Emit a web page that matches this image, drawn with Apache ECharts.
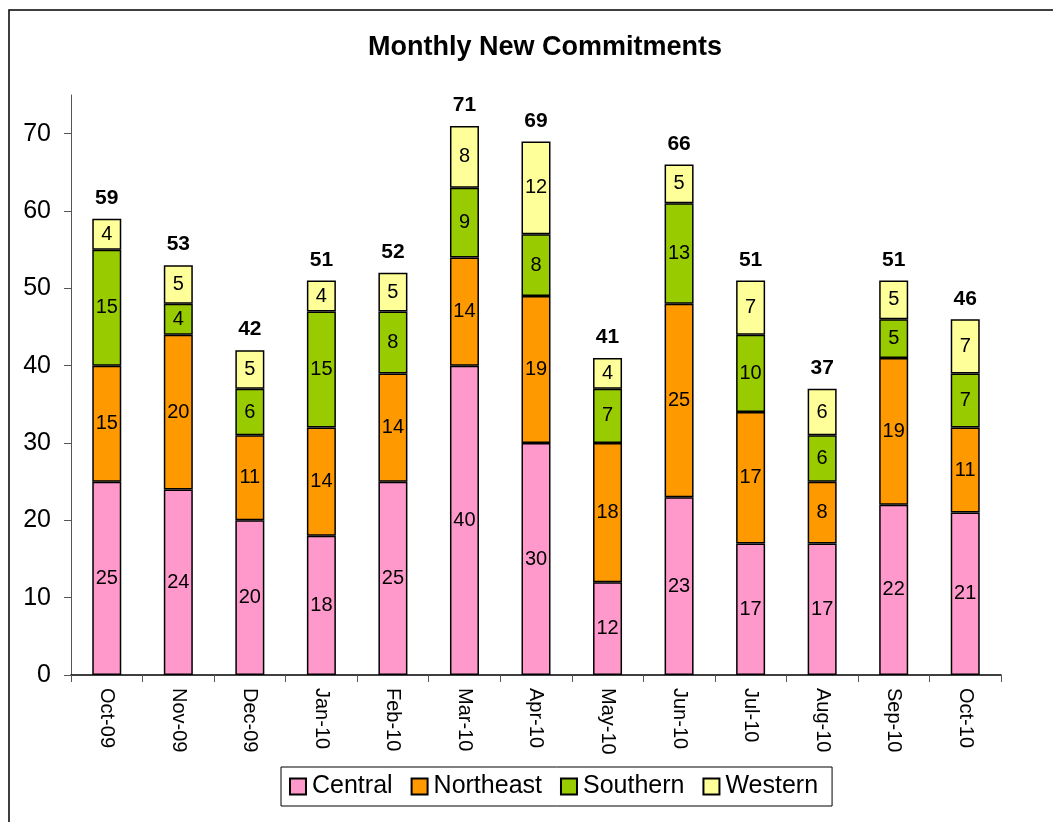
<!DOCTYPE html>
<html><head><meta charset="utf-8">
<script src="https://cdn.jsdelivr.net/npm/echarts@6/dist/echarts.min.js"></script>
<style>html,body{margin:0;padding:0;background:#fff}#c{width:1053px;height:822px}</style>
</head><body><div id="c"></div>
<script>
var categories = ['Oct-09','Nov-09','Dec-09','Jan-10','Feb-10','Mar-10','Apr-10','May-10','Jun-10','Jul-10','Aug-10','Sep-10','Oct-10'];
var central   = [25,24,20,18,25,40,30,12,23,17,17,22,21];
var northeast = [15,20,11,14,14,14,19,18,25,17,8,19,11];
var southern  = [15,4,6,15,8,9,8,7,13,10,6,5,7];
var western   = [4,5,5,4,5,8,12,4,5,7,6,5,7];
var yTicks = [0,10,20,30,40,50,60,70];

var totals = categories.map(function(_, i){ return central[i]+northeast[i]+southern[i]+western[i]; });
var font = 'Liberation Sans, Arial, sans-serif';
function seg(name, data, color){
  return {name:name, type:'bar', stack:'a', data:data, barWidth:29,
    itemStyle:{color:color, borderColor:'#000', borderWidth:1.5},
    label:{show:true, position:'inside', color:'#000', fontSize:20, fontFamily:font},
    emphasis:{disabled:true}};
}
var chart = echarts.init(document.getElementById('c'));
chart.setOption({
  backgroundColor:'#fff',
  animation:false,
  title:{text:'Monthly New Commitments', left:540, textAlign:'center', top:29,
    textStyle:{fontSize:27, fontWeight:'bold', color:'#000', fontFamily:font}},
  graphic:[{type:'rect', shape:{x:9, y:10, width:1100, height:900}, style:{fill:'none', stroke:'#000', lineWidth:1.5}, silent:true}],
  legend:{data:['Central','Northeast','Southern','Western'], left:281, top:767,
    borderColor:'#000', borderWidth:1, padding:[7,14,7,8], itemGap:18,
    itemWidth:16, itemHeight:16, icon:'rect',
    textStyle:{fontSize:25, color:'#000', fontFamily:font, padding:[0,0,0,1]}},
  grid:{left:71, right:52, top:95, bottom:147},
  xAxis:{type:'category', data:categories,
    axisLine:{lineStyle:{color:'#000', width:1.5}},
    axisTick:{show:true, length:7, lineStyle:{color:'#555'}},
    axisLabel:{rotate:-90, color:'#000', fontSize:20, fontFamily:font, margin:13}},
  yAxis:{type:'value', min:0, max:75, interval:5,
    splitLine:{show:false},
    axisLine:{show:true, lineStyle:{color:'#555', width:1}},
    axisTick:{show:true, length:7, customValues:yTicks, lineStyle:{color:'#555'}},
    axisLabel:{color:'#000', fontSize:25, fontFamily:font, margin:20, customValues:yTicks}},
  series:[
    seg('Central', central, '#FF99CC'),
    seg('Northeast', northeast, '#FF9900'),
    seg('Southern', southern, '#99CC00'),
    seg('Western', western, '#FFFF99'),
    {name:'Total', type:'bar', stack:'a', barWidth:29, data:totals.map(function(){return 0;}),
      itemStyle:{color:'transparent', borderWidth:0},
      label:{show:true, position:'top', distance:10, color:'#000', fontSize:21, fontWeight:'bold', fontFamily:font,
        formatter:function(p){ return totals[p.dataIndex]; }},
      emphasis:{disabled:true}}
  ]
});
</script></body></html>
